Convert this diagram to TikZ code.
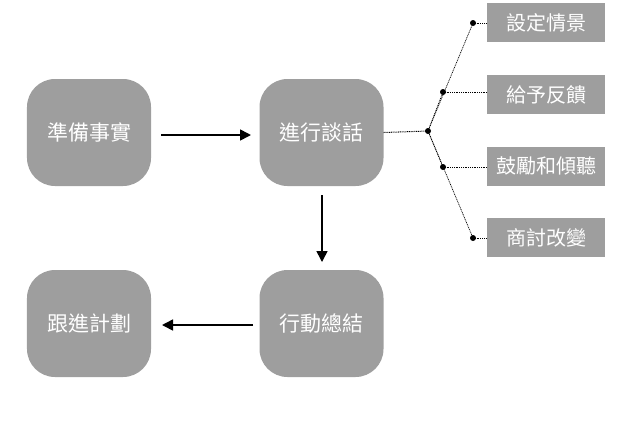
\documentclass[tikz,border=0pt]{standalone}
\usepackage{fontspec}
\newfontfamily\cjk{Noto Sans CJK TC}
\usetikzlibrary{arrows.meta}
\definecolor{boxgray}{HTML}{9E9E9E}
\begin{document}
\begin{tikzpicture}[x=1bp,y=-1bp,
  bigbox/.style={fill=boxgray,draw=none,rounded corners=28bp,minimum width=124bp,minimum height=107bp,inner sep=0pt,text=white,font=\cjk\fontsize{21bp}{24bp}\selectfont},
  smallbox/.style={fill=boxgray,draw=none,minimum width=118bp,minimum height=39bp,inner sep=0pt,text=white,font=\cjk\fontsize{20bp}{24bp}\selectfont},
  flow/.style={line width=1.6bp,-{Triangle[length=11bp,width=11bp]}},
  dotline/.style={line width=1bp,dash pattern=on 1bp off 0.8bp},
  dotmark/.style={circle,fill=black,inner sep=0pt,minimum size=6bp}]
\useasboundingbox (0,0) rectangle (630,422);
\node[bigbox] (prep) at (89,132.5) {準備事實};
\node[bigbox] (talk) at (321.5,132.5) {進行談話};
\node[bigbox] (act) at (321.5,323.5) {行動總結};
\node[bigbox] (follow) at (89,323.5) {跟進計劃};
\node[smallbox] (s1) at (546,22.5) {設定情景};
\node[smallbox] (s2) at (546,94.5) {給予反饋};
\node[smallbox] (s3) at (546,166) {鼓勵和傾聽};
\node[smallbox] (s4) at (546,237.5) {商討改變};
\node[dotmark] (hub) at (428,131) {};
\node[dotmark] (d1) at (473,23) {};
\node[dotmark] (d2) at (443,92) {};
\node[dotmark] (d3) at (443,167) {};
\node[dotmark] (d4) at (473,238) {};
\coordinate (a1s) at (161,135);
\coordinate (a1e) at (251,135);
\coordinate (a2s) at (322,195);
\coordinate (a2e) at (322,262);
\coordinate (a3s) at (253,325);
\coordinate (a3e) at (162,325);
\draw[flow] (a1s) -- (a1e);
\draw[flow] (a2s) -- (a2e);
\draw[flow] (a3s) -- (a3e);
\draw[dotline] (talk.east) -- (hub.center);
\foreach \d/\s in {d1/s1,d2/s2,d3/s3,d4/s4}{
  \draw[dotline,line width=0.7bp] (hub.center) -- (\d.center);
  \draw[dotline] (\d.center) -- (\s.west |- \d.center);
}
\end{tikzpicture}
\end{document}
